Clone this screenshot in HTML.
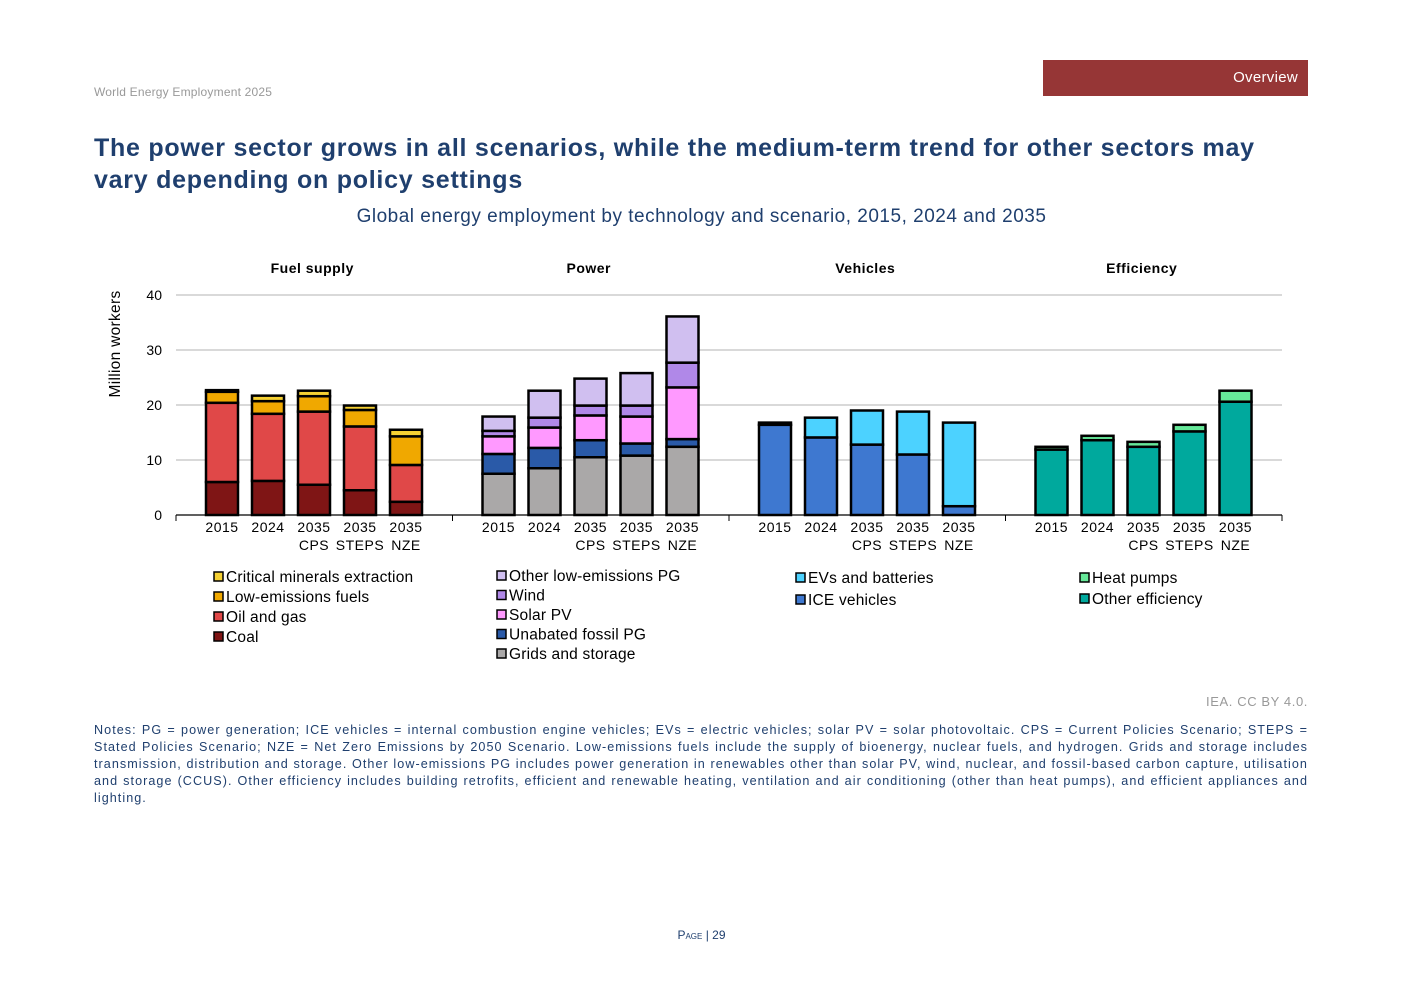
<!DOCTYPE html>
<html><head><meta charset="utf-8"><style>
body{margin:0;background:#fff;font-family:"Liberation Sans",sans-serif;}
#wrap{position:relative;width:1403px;height:992px;overflow:hidden;}
.abs{position:absolute;}
</style></head><body>
<div id="wrap">
<div class="abs" style="left:94px;top:85px;font-size:12px;color:#999;letter-spacing:0.2px;">World Energy Employment 2025</div>
<div class="abs" style="left:1043px;top:60px;width:265px;height:36px;background:#963636;color:#fff;font-size:15px;text-align:right;box-sizing:border-box;padding:9px 10px 0 0;letter-spacing:0.3px;">Overview</div>
<div class="abs" style="left:94px;top:132px;width:1185px;font-size:25px;font-weight:bold;color:#1f3f6e;line-height:32px;letter-spacing:0.75px;">The power sector grows in all scenarios, while the medium-term trend for other sectors may vary depending on policy settings</div>
<div class="abs" style="left:0;top:206px;width:1403px;text-align:center;font-size:19px;color:#1f3f6e;letter-spacing:0.5px;">Global energy employment by technology and scenario, 2015, 2024 and 2035</div>
<svg class="abs" style="left:0;top:0" width="1403" height="992" id="chart"></svg>
<div class="abs" style="right:95px;top:694px;font-size:13px;color:#999;letter-spacing:0.6px;">IEA. CC BY 4.0.</div>
<div class="abs" style="left:94px;top:722px;width:1214px;font-size:12.6px;color:#1f3f6e;line-height:17px;text-align:justify;letter-spacing:1.05px;">Notes: PG = power generation; ICE vehicles = internal combustion engine vehicles; EVs = electric vehicles; solar PV = solar photovoltaic. CPS = Current Policies Scenario; STEPS = Stated Policies Scenario; NZE = Net Zero Emissions by 2050 Scenario. Low-emissions fuels include the supply of bioenergy, nuclear fuels, and hydrogen. Grids and storage includes transmission, distribution and storage. Other low-emissions PG includes power generation in renewables other than solar PV, wind, nuclear, and fossil-based carbon capture, utilisation and storage (CCUS). Other efficiency includes building retrofits, efficient and renewable heating, ventilation and air conditioning (other than heat pumps), and efficient appliances and lighting.</div>
<div class="abs" style="left:0;width:1403px;top:928px;text-align:center;font-size:12px;color:#1f3f6e;"><span style="font-variant:small-caps">Page</span> | 29</div>
</div>
<script>
const groups=["Fuel supply","Power","Vehicles","Efficiency"];
const categories=["2015","2024","2035 CPS","2035 STEPS","2035 NZE"];
const yTicks=[0,10,20,30,40];
const fuelNames=["Coal","Oil and gas","Low-emissions fuels","Critical minerals extraction"];
const fuelColors=["#7f1515","#e04848","#f0a800","#f5d033"];
const coal=[6.0,6.2,5.5,4.5,2.4];
const oilGas=[14.4,12.2,13.3,11.6,6.7];
const lowEmFuels=[2.0,2.3,2.8,3.0,5.2];
const critMin=[0.3,1.0,1.0,0.8,1.2];
const powerNames=["Grids and storage","Unabated fossil PG","Solar PV","Wind","Other low-emissions PG"];
const powerColors=["#aaa8a8","#2a5aa8","#ff99ff","#b088e8","#d0bff0"];
const grids=[7.5,8.5,10.5,10.8,12.4];
const fossilPG=[3.6,3.7,3.1,2.2,1.4];
const solar=[3.2,3.7,4.5,4.9,9.4];
const wind=[1.0,1.8,1.8,2.0,4.5];
const otherLow=[2.6,4.9,4.9,5.9,8.4];
const vehNames=["ICE vehicles","EVs and batteries"];
const vehColors=["#3e78d0","#4cd2ff"];
const ice=[16.4,14.1,12.8,11.0,1.6];
const evs=[0.4,3.6,6.2,7.8,15.2];
const effNames=["Other efficiency","Heat pumps"];
const effColors=["#00a99d","#66e899"];
const otherEff=[11.9,13.6,12.4,15.2,20.6];
const heatPumps=[0.5,0.8,0.9,1.2,2.0];
const groupSeries=[[coal,oilGas,lowEmFuels,critMin],[grids,fossilPG,solar,wind,otherLow],[ice,evs],[otherEff,heatPumps]];
const groupColors=[fuelColors,powerColors,vehColors,effColors];
const groupNames=[fuelNames,powerNames,vehNames,effNames];

const svg=document.getElementById('chart');
const NS="http://www.w3.org/2000/svg";
const x0=176,x1=1282,y0=515,y40=295,gw=(x1-x0)/4;
function yS(v){return y0-(v/40)*(y0-y40);}
function xS(g,i){return x0+g*gw+46+i*46;}
function mk(t,a,p){const e=document.createElementNS(NS,t);for(const k in a)e.setAttribute(k,a[k]);(p||svg).appendChild(e);return e;}
yTicks.forEach(t=>{
 if(t>0){const l=mk('line',{x1:x0,x2:x1,y1:yS(t),y2:yS(t),stroke:'#d9d9d9','stroke-width':2});
 
 }
 const tx=mk('text',{x:162,y:yS(t)+5,'text-anchor':'end','font-size':14,fill:'#000'});tx.textContent=t;
 
 
});
const yt=mk('text',{x:0,y:0,transform:'translate(120,344) rotate(-90)','text-anchor':'middle','font-size':15.5,fill:'#000','letter-spacing':'0.3'});yt.textContent='Million workers';


const ax=mk('line',{x1:x0,x2:x1,y1:y0,y2:y0,stroke:'#000','stroke-width':1.2});


for(let g=0;g<=4;g++){mk('line',{x1:x0+g*gw,x2:x0+g*gw,y1:y0,y2:y0+6,stroke:'#000'});}
groups.forEach((gn,g)=>{
 const h=mk('text',{x:x0+g*gw+gw/2-2,y:273,'text-anchor':'middle','font-size':14,'font-weight':'bold',fill:'#000','letter-spacing':'0.5'});h.textContent=gn;
 
 
 categories.forEach((c,i)=>{
  const cx=xS(g,i);const parts=c.split(' ');
  const t1=mk('text',{x:cx,y:532,'text-anchor':'middle','font-size':14,fill:'#000','letter-spacing':'0.5'});t1.textContent=parts[0];
  
  
  if(parts[1]){const t2=mk('text',{x:cx,y:550,'text-anchor':'middle','font-size':14,fill:'#000','letter-spacing':'0.5'});t2.textContent=parts[1];
  
  }
  let acc=0;
  groupSeries[g].forEach((s,k)=>{
   const v=s[i];const top=yS(acc+v),bot=yS(acc);
   const r=mk('rect',{x:cx-16,y:top,width:32,height:bot-top,fill:groupColors[g][k],stroke:'#000','stroke-width':2.5});
   
   
   acc+=v;
  });
 });
});
const legendPos=[[214,577],[497,576],[796,578],[1080,578]];
const legendStep=[20,19.5,22,21];
groupNames.forEach((names,g)=>{
 const rev=names.slice().reverse(),cols=groupColors[g].slice().reverse();
 rev.forEach((n,k)=>{
  const y=legendPos[g][1]+k*legendStep[g];
  const r=mk('rect',{x:legendPos[g][0],y:y-5,width:9,height:9,fill:cols[k],stroke:'#000','stroke-width':1.5});
  
  
  const t=mk('text',{x:legendPos[g][0]+12,y:y+5,'font-size':15.5,fill:'#000','letter-spacing':'0.2'});t.textContent=n;
  
  
 });
});
</script>
</body></html>
